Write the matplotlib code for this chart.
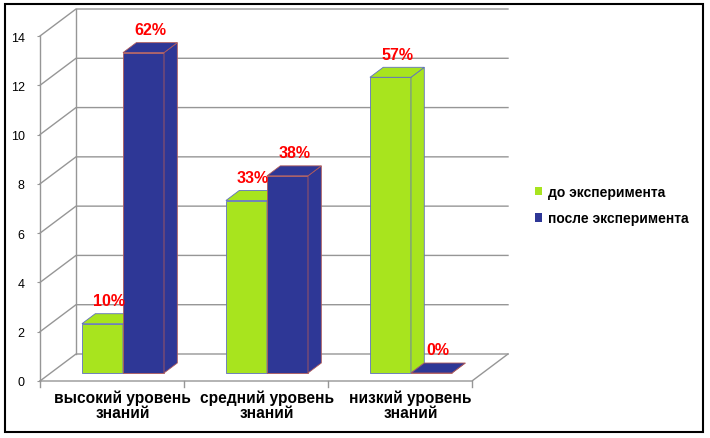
import matplotlib.pyplot as plt
from matplotlib.patches import Polygon, Rectangle, Patch

plt.rcParams['font.family'] = ['Liberation Sans', 'DejaVu Sans']

categories = ['высокий уровень\nзнаний', 'средний уровень\nзнаний', 'низкий уровень\nзнаний']
before = [2, 7, 12]
after = [13, 8, 0]
before_pct = ['10%', '33%', '57%']
after_pct = ['62%', '38%', '0%']
series_names = ['до эксперимента', 'после эксперимента']

green = '#A8E41E'
blue = '#2E3796'
grid_c = '#969696'

# fake 3d: wall depth offset in data units
DX = 0.25
DY = 27 / 24.64
d0 = 8 / 27    # bar front depth
d1 = 18 / 27   # bar back depth
w = 0.285

fig = plt.figure(figsize=(7.1, 4.39), dpi=100)
ax = fig.add_axes([40 / 710, (439 - 382) / 439, 468 / 710, 372 / 439])
ax.set_xlim(0, 3 + DX)
ax.set_ylim(0, 14 + DY)
for s in ax.spines.values():
    s.set_visible(False)
ax.set_xticks([])
ax.set_yticks(range(0, 15, 2))
ax.set_yticklabels([str(v) for v in range(0, 15, 2)], fontsize=9)
ax.tick_params(axis='y', length=2, color=grid_c, pad=9)

# walls / gridlines
for v in range(0, 15, 2):
    ax.plot([0, DX, 3 + DX], [v, v + DY, v + DY], color=grid_c, lw=1, zorder=1, clip_on=False)
ax.plot([DX, DX], [DY, 14 + DY], color=grid_c, lw=1, zorder=1, clip_on=False)
ax.plot([0, 0], [0, 14], color=grid_c, lw=1, zorder=1, clip_on=False)
ax.plot([0, 3, 3 + DX], [0, 0, DY], color=grid_c, lw=1, zorder=1, clip_on=False)
for i in range(4):
    ax.plot([i, i], [0, -0.25], color=grid_c, lw=1, clip_on=False)


def bar3d(xl, v, color, edge):
    ax.bar(xl + d0 * DX, v, w, bottom=d0 * DY, align='edge', color=color,
           edgecolor=edge, linewidth=0.6, zorder=3)
    xr = xl + w
    side = [(xr + d0 * DX, d0 * DY), (xr + d1 * DX, d1 * DY),
            (xr + d1 * DX, d1 * DY + v), (xr + d0 * DX, d0 * DY + v)]
    top = [(xl + d0 * DX, d0 * DY + v), (xr + d0 * DX, d0 * DY + v),
           (xr + d1 * DX, d1 * DY + v), (xl + d1 * DX, d1 * DY + v)]
    ax.add_patch(Polygon(side, closed=True, fc=color, ec=edge, lw=0.6, zorder=3))
    ax.add_patch(Polygon(top, closed=True, fc=color, ec=edge, lw=0.6, zorder=3))


def pct_label(xl, v, txt):
    ax.annotate(txt, ((xl + w / 2) + (d0 + d1) / 2 * DX, d1 * DY + v),
                xytext=(0, 4), textcoords='offset points', ha='center', va='bottom',
                color='red', fontsize=11.5, fontweight='bold', zorder=5)


for i in range(3):
    xg = i + 0.217
    xb = i + 0.502
    bar3d(xg, before[i], green, '#6070C0')
    bar3d(xb, after[i], blue, '#B05A5A')
    pct_label(xg, before[i], before_pct[i])
    pct_label(xb, after[i], after_pct[i])
    ax.text(i + 0.5 + d0 * DX, -0.33, categories[i], ha='center', va='top',
            fontsize=11.2, fontweight='bold', linespacing=1.0, clip_on=False)

handles = [Patch(facecolor=green, edgecolor='none'), Patch(facecolor=blue, edgecolor='none')]
fig.legend(handles, series_names, loc='center left', bbox_to_anchor=(522 / 710, 1 - 206 / 439),
           frameon=False, handlelength=0.55, handleheight=0.55, handletextpad=0.45,
           labelspacing=0.9, prop={'weight': 'bold', 'size': 10})

fig.patches.append(Rectangle((5 / 710, 1 - 433 / 439), 698 / 710, 428 / 439,
                             transform=fig.transFigure, fill=False, ec='black', lw=1.5))

fig.savefig('out.png', dpi=100)
